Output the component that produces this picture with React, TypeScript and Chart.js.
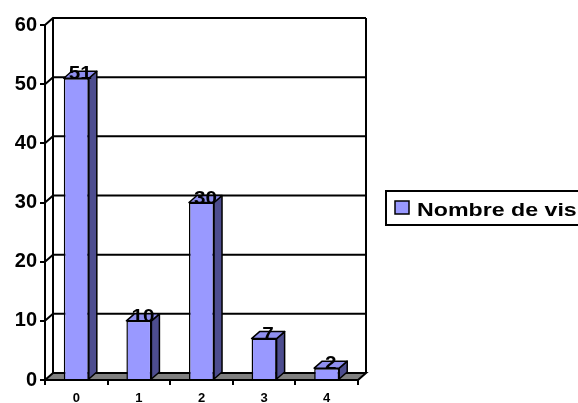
import { useEffect, useRef } from 'react';
import { Chart, registerables } from 'chart.js';

Chart.register(...registerables);

const categories = ['0', '1', '2', '3', '4'];
const visits = [51, 10, 30, 7, 2];
const yTickValues = [0, 10, 20, 30, 40, 50, 60];
const seriesLabel = 'Nombre de visites';

const DX = 8;
const DY = -7;
const FONT = '"Liberation Sans", Arial, sans-serif';

const excel3d = {
  id: 'excel3d',
  beforeDatasetsDraw(chart: any) {
    const { ctx, chartArea: a, scales } = chart;
    const y = scales.y;
    ctx.save();
    ctx.lineWidth = 2;
    ctx.strokeStyle = '#000';
    // floor
    ctx.fillStyle = '#808080';
    ctx.beginPath();
    ctx.moveTo(a.left, a.bottom);
    ctx.lineTo(a.right, a.bottom);
    ctx.lineTo(a.right + DX, a.bottom + DY);
    ctx.lineTo(a.left + DX, a.bottom + DY);
    ctx.closePath();
    ctx.fill();
    ctx.stroke();
    // gridlines on side and back wall
    for (const v of yTickValues) {
      if (v === 0) continue;
      const py = y.getPixelForValue(v);
      ctx.beginPath();
      ctx.moveTo(a.left, py);
      ctx.lineTo(a.left + DX, py + DY);
      ctx.lineTo(a.right + DX, py + DY);
      ctx.stroke();
    }
    // back wall verticals
    ctx.beginPath();
    ctx.moveTo(a.left + DX, a.top + DY);
    ctx.lineTo(a.left + DX, a.bottom + DY);
    ctx.moveTo(a.right + DX, a.top + DY);
    ctx.lineTo(a.right + DX, a.bottom + DY);
    ctx.stroke();
    ctx.restore();
  },
  afterDatasetsDraw(chart: any) {
    const { ctx } = chart;
    const meta = chart.getDatasetMeta(0);
    ctx.save();
    ctx.lineWidth = 1.5;
    ctx.strokeStyle = '#000';
    ctx.lineJoin = 'round';
    meta.data.forEach((bar: any) => {
      const L = bar.x - bar.width / 2;
      const R = bar.x + bar.width / 2;
      const T = bar.y;
      const B = bar.base;
      // side face
      ctx.fillStyle = '#4D4D8F';
      ctx.beginPath();
      ctx.moveTo(R, T);
      ctx.lineTo(R + DX, T + DY);
      ctx.lineTo(R + DX, B + DY);
      ctx.lineTo(R, B);
      ctx.closePath();
      ctx.fill();
      ctx.stroke();
      // top face
      ctx.fillStyle = '#8F8FEF';
      ctx.beginPath();
      ctx.moveTo(L, T);
      ctx.lineTo(R, T);
      ctx.lineTo(R + DX, T + DY);
      ctx.lineTo(L + DX, T + DY);
      ctx.closePath();
      ctx.fill();
      ctx.stroke();
    });
    // value labels
    ctx.fillStyle = '#000';
    ctx.font = `bold 18px ${FONT}`;
    ctx.textAlign = 'center';
    ctx.textBaseline = 'alphabetic';
    meta.data.forEach((bar: any, i: number) => {
      ctx.save();
      ctx.translate(bar.x + DX / 2, bar.y + 1);
      ctx.scale(1.15, 1);
      ctx.fillText(String(visits[i]), 0, 0);
      ctx.restore();
    });
    ctx.restore();
  },
  afterDraw(chart: any) {
    const { ctx, chartArea: a } = chart;
    const lx = a.right + 28;
    const ly = 191;
    ctx.save();
    ctx.fillStyle = '#fff';
    ctx.strokeStyle = '#000';
    ctx.lineWidth = 2;
    ctx.fillRect(lx, ly, 300, 34);
    ctx.strokeRect(lx, ly, 300, 34);
    ctx.fillStyle = '#9999FF';
    ctx.lineWidth = 1.5;
    ctx.fillRect(lx + 9, ly + 10, 14, 13);
    ctx.strokeRect(lx + 9, ly + 10, 14, 13);
    ctx.fillStyle = '#000';
    ctx.font = `bold 19px ${FONT}`;
    ctx.textAlign = 'left';
    ctx.textBaseline = 'alphabetic';
    ctx.translate(lx + 31, ly + 25);
    ctx.scale(1.22, 1);
    ctx.fillText(seriesLabel, 0, 0);
    ctx.restore();
  },
};

export default function App() {
  const ref = useRef<HTMLCanvasElement>(null);
  useEffect(() => {
    if (!ref.current) return;
    const chart = new Chart(ref.current, {
      type: 'bar',
      data: {
        labels: categories,
        datasets: [
          {
            label: seriesLabel,
            data: visits,
            backgroundColor: '#9999FF',
            borderColor: '#000',
            borderWidth: 1.5,
            barPercentage: 0.4,
            categoryPercentage: 1,
          },
        ],
      },
      options: {
        responsive: false,
        animation: false,
        devicePixelRatio: 1,
        layout: { padding: { top: 25, right: 220, left: 0, bottom: 0 } },
        plugins: { legend: { display: false }, tooltip: { enabled: false } },
        scales: {
          x: {
            offset: true,
            afterFit: (s: any) => {
              s.height = 23;
            },
            grid: {
              offset: true,
              drawOnChartArea: false,
              drawTicks: true,
              tickLength: 5,
              color: '#000',
              lineWidth: 2,
            },
            border: { display: true, color: '#000', width: 2 },
            ticks: {
              color: '#000',
              font: { family: FONT, size: 13, weight: 'bold' },
              padding: 6,
            },
          },
          y: {
            min: 0,
            max: 60,
            afterFit: (s: any) => {
              s.width = 45;
            },
            afterBuildTicks: (s: any) => {
              s.ticks = yTickValues.map((v) => ({ value: v }));
            },
            grid: {
              drawOnChartArea: false,
              drawTicks: true,
              tickLength: 5,
              color: '#000',
              lineWidth: 2,
            },
            border: { display: true, color: '#000', width: 2 },
            ticks: {
              color: '#000',
              font: { family: FONT, size: 20, weight: 'bold' },
              padding: 3,
            },
          },
        },
      },
      plugins: [excel3d],
    });
    return () => chart.destroy();
  }, []);
  return (
    <div style={{ position: 'absolute', left: 0, top: 0, width: 578, height: 403, background: '#fff' }}>
      <canvas ref={ref} width={578} height={403} style={{ display: 'block' }} />
    </div>
  );
}
